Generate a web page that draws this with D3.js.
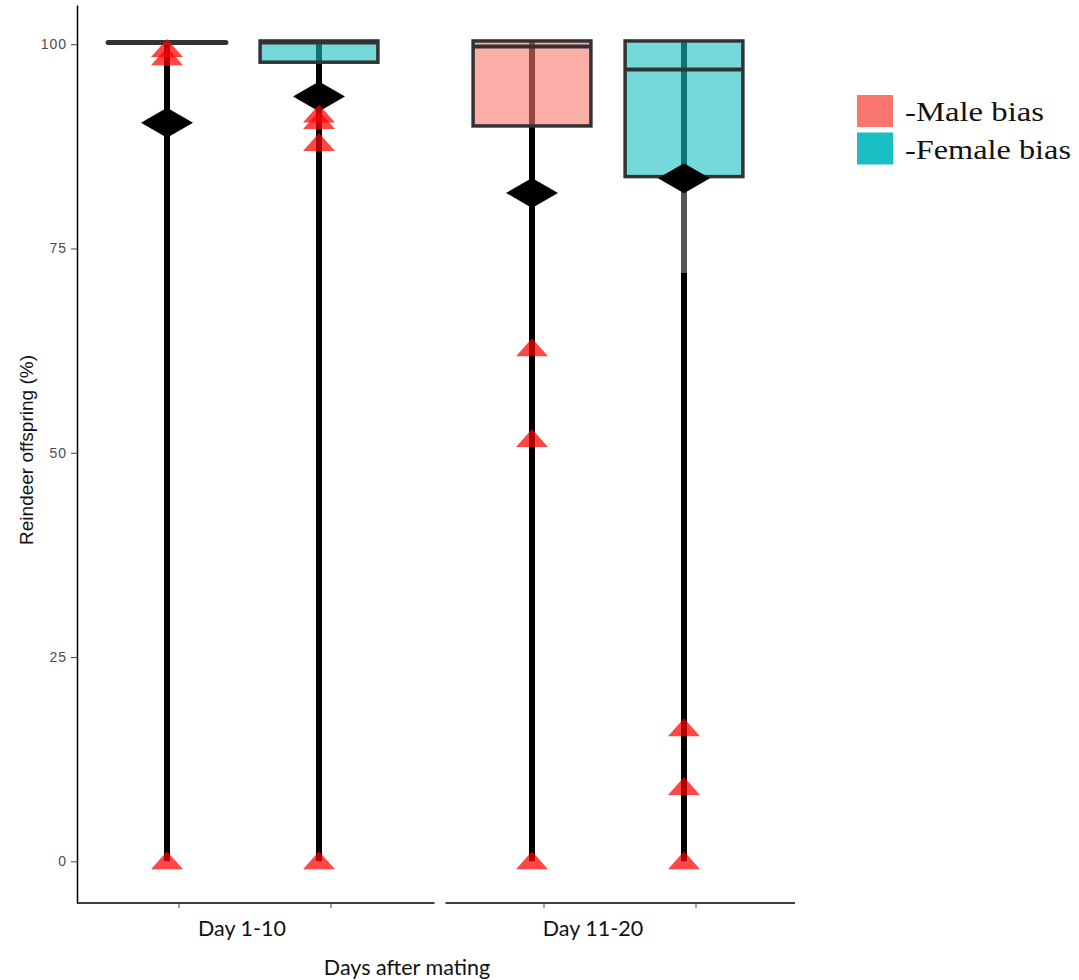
<!DOCTYPE html>
<html><head><meta charset="utf-8">
<script src="https://cdn.jsdelivr.net/npm/d3@7/dist/d3.min.js"></script>
<style>body{margin:0;background:#fff}svg{display:block}</style>
</head><body><svg id="c" width="1079" height="980"></svg>
<script>
// ---- data ----
const groups = ["Day 1-10", "Day 11-20"];
const biases = ["Male bias", "Female bias"];
const boxGroup = ["Day 1-10", "Day 1-10", "Day 11-20", "Day 11-20"];
const boxBias = ["Male bias", "Female bias", "Male bias", "Female bias"];
const q3 = [100.4, 100.4, 100.4, 100.4];
const medians = [100.4, 100.4, 99.9, 97.1];
const q1 = [100.4, 97.8, 90.0, 83.8];
const whiskerLow = [0, 0, 0, 0];
const means = [90.4, 93.6, 81.8, 83.6];
const outliers = [
  [99.4, 98.4, 0],
  [91.4, 90.6, 87.9, 0],
  [62.8, 51.7, 0],
  [16.3, 9.1, 0]
];
const yTicks = [0, 25, 50, 75, 100];
const legendLabels = ["-Male bias", "-Female bias"];

// ---- layout ----
const svg = d3.select("#c");
const colors = d3.scaleOrdinal().domain(biases).range(["#F8766D", "#19BFC4"]);
const y = d3.scaleLinear().domain([-5.1, 104.8]).range([903, 5]);
const x0 = d3.scaleBand().domain(groups).range([60.5, 790.5]);
const x1 = d3.scaleBand().domain(biases).range([30.5, 334.5]);
const cx = i => x0(boxGroup[i]) + x1(boxBias[i]) + x1.bandwidth() / 2;
const boxW = x1.bandwidth() * 0.775;

// y axis
const yAxis = d3.axisLeft(y).tickValues(yTicks).tickSize(6).tickPadding(4).tickSizeOuter(0);
const gy = svg.append("g").attr("transform", "translate(77,0)").call(yAxis);
gy.select(".domain").attr("stroke", "#000").attr("stroke-width", 1.5);
gy.selectAll(".tick line").attr("stroke", "#444");
gy.selectAll(".tick text").attr("fill", "#4d4d4d").style("font-family", "Liberation Sans, Arial, sans-serif")
  .style("font-size", "14px").style("letter-spacing", "1px");

// x axis segments (one per group)
const g2 = x0(groups[1]);
svg.append("line").attr("x1", 77).attr("x2", g2 + 9).attr("y1", 903).attr("y2", 903).attr("stroke", "#000").attr("stroke-width", 1.5);
svg.append("line").attr("x1", g2 + 20).attr("x2", 795).attr("y1", 903).attr("y2", 903).attr("stroke", "#000").attr("stroke-width", 1.5);
// x ticks
d3.range(4).forEach(i => {
  svg.append("line").attr("x1", cx(i) + 12).attr("x2", cx(i) + 12).attr("y1", 903).attr("y2", 908).attr("stroke", "#444").attr("stroke-width", 1);
});
svg.selectAll("text.xl").data(groups).enter().append("text").attr("class", "xl")
  .attr("x", (d, i) => x0(d) + x0.bandwidth() / 2 - (i === 0 ? 1 : 15)).attr("y", 936)
  .attr("text-anchor", "middle").style("font-family", "Lato, 'Open Sans', sans-serif").style("font-size", "21.5px").attr("fill", "#111").text(d => d);
svg.append("text").attr("x", 407).attr("y", 975).attr("text-anchor", "middle")
  .style("font-family", "Lato, 'Open Sans', sans-serif").style("font-size", "21.5px").attr("fill", "#111").text("Days after mating");
svg.append("text").attr("transform", "translate(33,450) rotate(-90)").attr("text-anchor", "middle")
  .attr("textLength", 190).attr("lengthAdjust", "spacingAndGlyphs")
  .style("font-family", "'Liberation Sans', Arial, sans-serif").style("font-size", "19px").attr("fill", "#111").text("Reindeer offspring (%)");

// whiskers
d3.range(4).forEach(i => {
  svg.append("line").attr("x1", cx(i)).attr("x2", cx(i)).attr("y1", y(q3[i])).attr("y2", y(whiskerLow[i]))
    .attr("stroke", "#000").attr("stroke-width", 6);
});
// faded upper part of lower whisker in last box
svg.append("line").attr("x1", cx(3)).attr("x2", cx(3)).attr("y1", y(q1[3])).attr("y2", y(72))
  .attr("stroke", "#555").attr("stroke-width", 6);

// boxes
d3.range(4).forEach(i => {
  const h = y(q1[i]) - y(q3[i]);
  if (h > 1) {
    svg.append("rect").attr("x", cx(i) - boxW / 2).attr("y", y(q3[i])).attr("width", boxW).attr("height", h)
      .attr("fill", colors(boxBias[i])).attr("fill-opacity", 0.6).attr("stroke", "#333").attr("stroke-width", 3.5);
  }
  svg.append("line").attr("x1", cx(i) - boxW / 2).attr("x2", cx(i) + boxW / 2).attr("y1", y(medians[i]) + 1.5).attr("y2", y(medians[i]) + 1.5)
    .attr("stroke", "#333").attr("stroke-width", h > 1 ? 4 : 5).attr("stroke-linecap", h > 1 ? "butt" : "round");
});

// means (diamonds)
d3.range(4).forEach(i => {
  const mx = cx(i), my = y(means[i]);
  svg.append("path").attr("d", `M${mx - 26},${my}L${mx},${my - 15}L${mx + 26},${my}L${mx},${my + 15}Z`).attr("fill", "#000");
});

// outliers (triangles)
outliers.forEach((arr, i) => {
  arr.forEach(v => {
    const tx = cx(i), ty = y(v);
    svg.append("path").attr("d", `M${tx},${ty - 10}L${tx + 16},${ty + 8}L${tx - 16},${ty + 8}Z`)
      .attr("fill", "#ff0000").attr("fill-opacity", 0.72);
  });
});

// legend
const legW = [139, 166];
biases.forEach((b, i) => {
  svg.append("rect").attr("x", 857).attr("y", 95 + i * 37.5).attr("width", 36).attr("height", 32).attr("fill", colors(b));
  svg.append("text").attr("x", 905).attr("y", 121 + i * 37.5)
    .attr("textLength", legW[i]).attr("lengthAdjust", "spacingAndGlyphs")
    .style("font-family", "'Liberation Serif', 'Times New Roman', serif").style("font-size", "27px").attr("fill", "#111").text(legendLabels[i]);
});
</script></body></html>
